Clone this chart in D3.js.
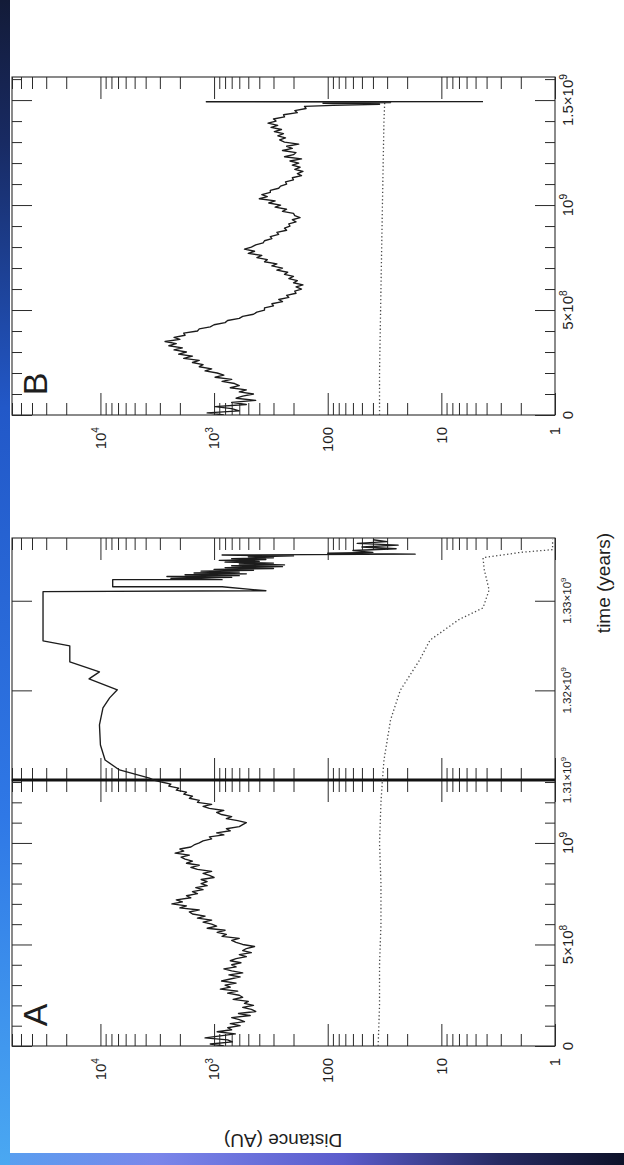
<!DOCTYPE html>
<html><head><meta charset="utf-8">
<script src="https://cdn.jsdelivr.net/npm/d3@7"></script>
<style>
html,body{margin:0;padding:0;background:#fff;}
svg{display:block;}
text{font-family:"Liberation Sans",Arial,Helvetica,sans-serif;fill:#1e1e1e;}
</style></head><body>
<svg id="fig" width="624" height="1165"></svg>
<script>
// ---------------- data ----------------
// distance axis (AU, log)
const distTicks = [1, 10, 100, 1e3, 1e4];
const distTickLabels = [["1",""],["10",""],["100",""],["10","3"],["10","4"]];

// time axis ticks (Gyr) and labels
const timeTicksA = [0, 0.5, 1.0];
const timeLabelsA = [["0",""],["5×10","8"],["10","9"]];
const timeTicksAZoom = [1.31, 1.32, 1.33];
const timeLabelsAZoom = [["1.31×10","9"],["1.32×10","9"],["1.33×10","9"]];
const timeTicksB = [0, 0.5, 1.0, 1.5];
const timeLabelsB = [["0",""],["5×10","8"],["10","9"],["1.5×10","9"]];

// Run A, first 1.31 Gyr: distance (AU) sampled every 0.01 Gyr from t = 0
const runA_step = 0.01;
const runA_dist = [
  820,1080,690,760,1200,880,650,940,700,760,590,
  720,540,600,700,480,610,430,470,560,450,
  540,500,680,560,600,760,620,880,720,800,
  640,860,720,590,740,560,700,820,640,700,
  580,720,640,520,600,470,560,520,440,560,
  640,700,600,850,780,940,800,1150,950,1050,
  1250,1050,1400,1200,1550,1650,1350,2000,1750,2350,
  1900,2150,1600,1750,1400,1550,1250,1450,1150,1300,
  1150,1300,1000,1100,1250,1050,1400,1600,1350,1750,
  1550,1800,1950,1650,2200,1850,2000,1600,1500,1350,
  1250,1050,1100,820,950,720,780,600,560,520,
  620,780,700,860,950,820,1100,1250,1050,1400,
  1350,1650,1550,1850,1750,2150,2050,2500,2400,2900,3400
];
// Run A, final episode: [time (Gyr), distance (AU)]
const runA_end = [
  [1.31022,3700],[1.31112,6800],[1.31223,9100],[1.31391,10000],[1.31615,10200],
  [1.31804,9500],[1.31916,8300],[1.32006,7100],[1.32128,12600],[1.32207,10200],
  [1.32318,18600],[1.32497,18600],[1.32553,32000],[1.33101,32000],[1.33112,350],
  [1.33156,850],[1.33156,7800],[1.33235,7800],[1.33235,850],
  [1.3325,2400],[1.3326,700],[1.3327,2600],[1.3328,600],[1.3329,1800],[1.3330,520],
  [1.3331,1500],[1.3332,600],[1.3333,1300],[1.3334,450],[1.3335,1000],[1.3336,300],
  [1.3337,800],[1.3338,250],[1.3339,700],[1.3340,240],[1.3341,600],[1.3342,300],
  [1.3343,800],[1.3344,400],[1.3345,900],[1.3346,350],[1.3347,700],[1.3348,300],
  [1.3349,500],[1.3350,200],[1.3351,850],[1.3352,17],[1.3353,100],[1.3354,40],
  [1.3356,60],[1.3358,25],[1.3360,50],[1.3362,24],[1.3364,55],[1.3366,30],[1.3368,40]
];
// Run A, second (dotted) body: [time (Gyr), distance (AU)]
const runA_inner = [
  [0,36],[0.2,35],[0.4,35],[0.6,34],[0.8,34],[1.0,35],[1.2,34],[1.31,33],
  [1.3122,32],[1.3167,28],[1.32,23],[1.3234,15.5],[1.3256,12.6],[1.3279,7],
  [1.3292,4.3],[1.3312,3.8],[1.3335,4.2],[1.3348,4.3],[1.3354,2.0],[1.3357,1.05],[1.3368,1.05]
];

// Run B: distance (AU) sampled every 0.01 Gyr from t = 0
const runB_step = 0.01;
const runB_dist = [
  820,1150,600,700,980,520,700,430,640,560,450,
  600,520,720,600,660,850,700,980,820,940,
  1200,1050,1350,1250,1550,1350,1850,1550,2050,1750,
  2250,1900,2500,2150,2700,2000,2250,1800,1850,1400,
  1350,1080,1000,800,760,600,560,450,420,360,
  360,300,310,250,270,220,230,190,195,170,
  190,165,200,185,220,200,240,225,280,250,
  310,280,360,340,420,380,500,440,540,470,
  430,370,360,310,320,270,280,230,240,215,
  220,190,205,175,195,200,250,230,290,260,
  330,290,400,340,380,320,320,270,260,230,
  235,200,205,170,185,165,195,175,205,180,
  215,170,240,200,190,250,205,230,180,240,
  265,235,275,245,295,255,315,275,335,285,
  300,240,245,185,195,155,160
];
const runB_end = [[1.475,90],[1.48,35],[1.485,110],[1.488,28],[1.49,60],[1.492,1170],[1.4925,4.3]];
const runB_inner = [[0,35],[0.2,35],[0.4,34.5],[0.6,34],[0.8,33.5],[1.0,33],[1.2,32.5],[1.4,32],[1.49,31.5]];

// ---------------- drawing ----------------
const W = 624, H = 1165;
const svg = d3.select("#fig");
const defs = svg.append("defs");

// slide background edges
const gl = defs.append("linearGradient").attr("id","edgeL").attr("x1",0).attr("y1",0).attr("x2",0).attr("y2",1);
[[0,"#131b38"],[0.12,"#182a62"],[0.35,"#2258c8"],[0.7,"#2f78e6"],[1,"#4aa8f2"]]
  .forEach(([o,c]) => gl.append("stop").attr("offset",o).attr("stop-color",c));
const gb = defs.append("linearGradient").attr("id","edgeB").attr("x1",0).attr("y1",0).attr("x2",1).attr("y2",0);
[[0,"#57a0f0"],[0.25,"#7a86ea"],[0.55,"#5b5ccc"],[0.8,"#262a62"],[1,"#0d1128"]]
  .forEach(([o,c]) => gb.append("stop").attr("offset",o).attr("stop-color",c));

svg.append("rect").attr("width",W).attr("height",H).attr("fill","#fff");
svg.append("rect").attr("x",0).attr("y",1153).attr("width",W).attr("height",H-1153).attr("fill","url(#edgeB)");
svg.append("rect").attr("x",0).attr("y",0).attr("width",10).attr("height",H).attr("fill","url(#edgeL)");

const X0 = 12, X1 = 555;
const xD = d3.scaleLog().domain([1, 6e4]).range([X1, X0]);
const majorD = xD.ticks().filter(v => Math.abs(Math.log10(v) - Math.round(Math.log10(v))) < 1e-9);
const minorD = xD.ticks().filter(v => !majorD.includes(v));

const ink = "#2a2a2a";

function frame(t, yr, timeMajors, minorCount) {
  const y = d3.scaleLinear().domain(t).range(yr);
  const g = svg.append("g");
  g.append("rect").attr("x",X0).attr("y",yr[1]).attr("width",X1-X0).attr("height",yr[0]-yr[1])
    .attr("fill","none").attr("stroke",ink).attr("stroke-width",1.1);
  const strip = s => s.call(a => a.select(".domain").remove())
    .call(a => a.selectAll("line").attr("stroke",ink).attr("stroke-width",1));
  // distance ticks, inward on both long edges
  [[d3.axisBottom, yr[1]], [d3.axisTop, yr[0]]].forEach(([ax, yy]) => {
    g.append("g").attr("transform",`translate(0,${yy})`)
      .call(ax(xD).tickValues(majorD).tickSize(22).tickFormat("")).call(strip);
    g.append("g").attr("transform",`translate(0,${yy})`)
      .call(ax(xD).tickValues(minorD).tickSize(12).tickFormat("")).call(strip);
  });
  // time ticks, inward on both short edges
  const minors = minorCount ? y.ticks(minorCount).filter(v => !timeMajors.some(m => Math.abs(m-v) < 1e-9)) : [];
  [[d3.axisRight, X0], [d3.axisLeft, X1]].forEach(([ax, xx]) => {
    g.append("g").attr("transform",`translate(${xx},0)`)
      .call(ax(y).tickValues(timeMajors).tickSize(20).tickFormat("")).call(strip);
    if (minors.length)
      g.append("g").attr("transform",`translate(${xx},0)`)
        .call(ax(y).tickValues(minors).tickSize(10).tickFormat("")).call(strip);
  });
  return y;
}

function rotLabel(x, y, parts, size, anchor, dy) {
  const t = svg.append("text").attr("transform",`translate(${x},${y}) rotate(-90)`)
    .attr("text-anchor",anchor).attr("font-size",size);
  t.append("tspan").attr("dy",dy).text(parts[0]);
  if (parts[1]) t.append("tspan").attr("dy",-size*0.42).attr("font-size",size*0.68).text(parts[1]);
}

// panel frames
const yB  = frame([0, 1.61], [415, 77], timeTicksB, 16);
const yA1 = frame([0, 1.31], [1046, 780], timeTicksA, 13);
const yA2 = frame([1.31, 1.337], [780, 538], timeTicksAZoom.slice(1), 0);

// axis break
svg.append("line").attr("x1",X0).attr("x2",X1).attr("y1",780).attr("y2",780)
  .attr("stroke","#111").attr("stroke-width",3);

// curves
const clip = (id, y0, y1) => defs.append("clipPath").attr("id",id).append("rect")
  .attr("x",X0).attr("y",y1).attr("width",X1-X0).attr("height",y0-y1);
clip("cB",415,77); clip("cA1",1046,780); clip("cA2",780,538);

function curve(pts, y, clipId, dotted) {
  const line = d3.line().x(d => xD(d[1])).y(d => y(d[0]));
  svg.append("path").datum(pts).attr("d",line).attr("clip-path",`url(#${clipId})`)
    .attr("fill","none").attr("stroke", dotted ? "#4a4a4a" : "#1c1c1c")
    .attr("stroke-width", dotted ? 1.3 : 1.35)
    .attr("stroke-dasharray", dotted ? "1.3,2.4" : null)
    .attr("stroke-linejoin","round");
}

const runA_series = runA_dist.map((d,i) => [i*runA_step, d]);
const runB_series = runB_dist.map((d,i) => [i*runB_step, d]).concat(runB_end);

curve(runB_inner, yB, "cB", true);
curve(runB_series, yB, "cB", false);
curve(runA_inner.filter(p => p[0] <= 1.31), yA1, "cA1", true);
curve(runA_inner.filter(p => p[0] >= 1.31), yA2, "cA2", true);
curve(runA_series, yA1, "cA1", false);
curve([runA_series[runA_series.length-1]].concat(runA_end), yA2, "cA2", false);

// distance tick labels
distTicks.forEach((v,i) => {
  rotLabel(xD(v), 427, distTickLabels[i], 15, "end", "0.35em");
  rotLabel(xD(v), 1058, distTickLabels[i], 15, "end", "0.35em");
});
// time tick labels
timeTicksB.forEach((v,i) => rotLabel(562, yB(v), timeLabelsB[i], 15, "middle", "0.75em"));
timeTicksA.forEach((v,i) => rotLabel(562, yA1(v), timeLabelsA[i], 15, "middle", "0.75em"));
timeTicksAZoom.forEach((v,i) => rotLabel(562, yA2(v), timeLabelsAZoom[i], 11.5, "middle", "0.75em"));

// panel letters
rotLabel(47, 1015, ["A",""], 34, "middle", "0");
rotLabel(47, 384, ["B",""], 34, "middle", "0");

// axis titles
svg.append("text").attr("transform","translate(603,583) rotate(-90)")
  .attr("text-anchor","middle").attr("dy","0.35em").attr("font-size",19).text("time (years)");
svg.append("text").attr("transform","translate(283,1141) rotate(180)")
  .attr("text-anchor","middle").attr("dy","0.35em").attr("font-size",19).text("Distance (AU)");
</script>
</body></html>
